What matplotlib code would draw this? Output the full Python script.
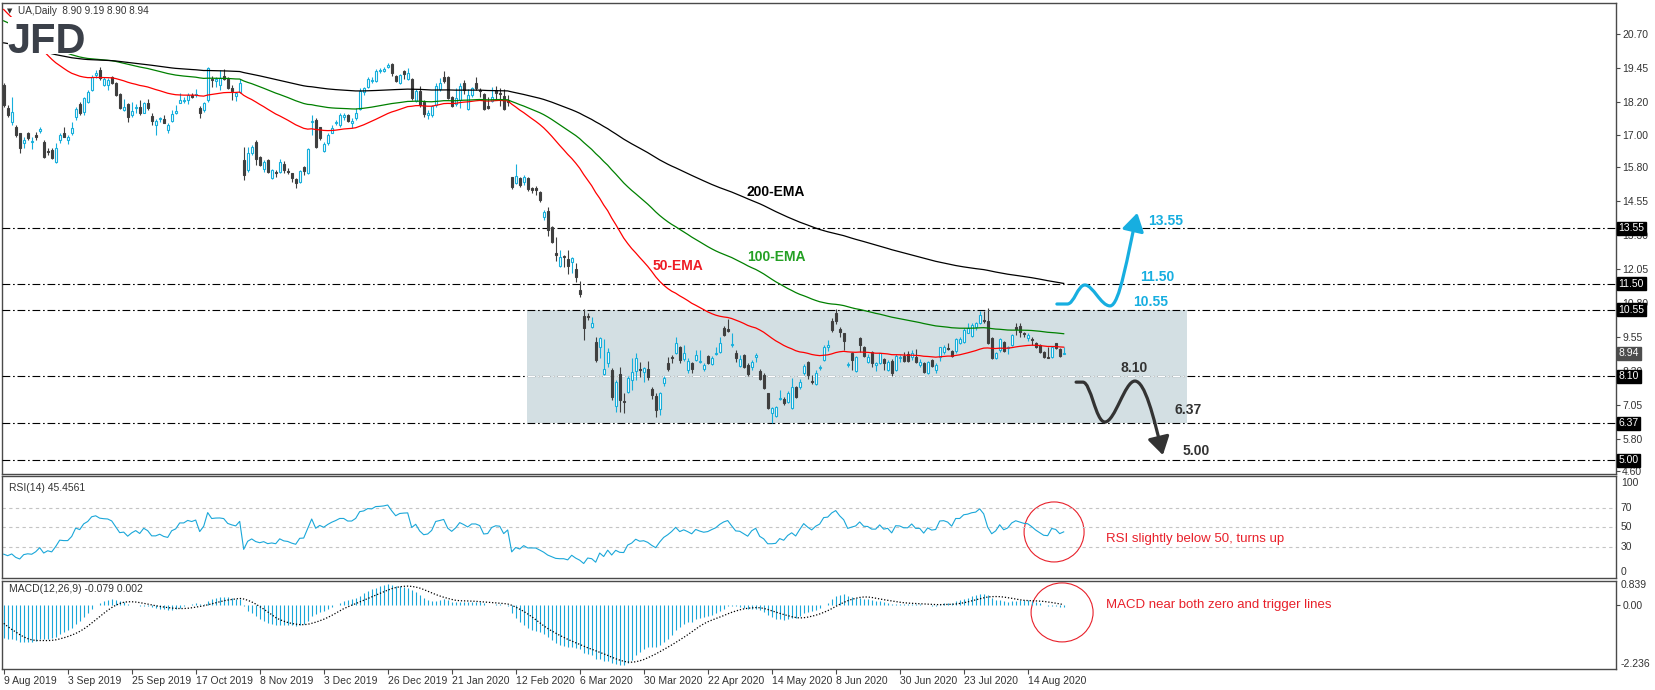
import numpy as np
import matplotlib
matplotlib.use('Agg')
import matplotlib.pyplot as plt
from matplotlib.path import Path
from matplotlib.patches import FancyArrowPatch, Rectangle, Ellipse

plt.rcParams['font.family'] = ['Liberation Sans', 'DejaVu Sans']

# UA daily candles (9 Aug 2019 -> late Aug 2020)
opens = [
    18.83, 17.97, 17.48, 17.30, 17.05, 16.68, 17.05, 16.72, 16.99, 17.14,
    16.74, 16.40, 16.44, 16.01, 16.81, 17.08, 16.81, 17.07, 17.64, 18.12,
    17.85, 18.22, 18.65, 19.20, 19.38, 18.83, 18.83, 19.11, 18.92, 18.49,
    17.91, 18.13, 17.73, 17.98, 18.01, 17.81, 18.16, 17.69, 17.36, 17.57,
    17.57, 17.17, 17.52, 17.79, 18.18, 18.23, 18.28, 18.45, 18.45, 17.99,
    17.91, 18.28, 19.07, 18.97, 18.83, 19.17, 19.07, 18.73, 18.44, 18.59,
    16.07, 15.70, 16.34, 16.74, 16.19, 15.73, 16.07, 15.39, 15.64, 15.64,
    15.92, 15.67, 15.58, 15.36, 15.27, 15.82, 15.58, 17.47, 17.54, 17.27,
    16.41, 16.71, 17.07, 17.42, 17.36, 17.67, 17.73, 17.42, 17.60, 17.94,
    18.59, 18.75, 18.97, 18.99, 19.34, 19.36, 19.48, 19.59, 19.16, 18.89,
    19.36, 19.04, 19.04, 18.26, 18.62, 18.22, 17.71, 17.73, 18.10, 18.67,
    19.11, 19.11, 18.38, 18.13, 18.28, 18.89, 17.94, 18.46, 18.92, 18.65,
    18.49, 18.06, 18.25, 18.65, 18.55, 18.43, 18.24, 15.43, 15.23, 15.39,
    15.27, 15.39, 15.02, 15.02, 14.89, 13.95, 14.20, 13.61, 12.63, 12.16,
    12.53, 12.41, 12.32, 12.04, 11.28, 10.32, 10.32, 9.90, 9.37, 9.19,
    8.18, 8.57, 8.33, 7.00, 8.18, 7.19, 7.53, 7.96, 8.30, 8.38,
    8.27, 8.35, 7.61, 7.37, 6.88, 7.86, 8.57, 8.82, 8.97, 9.19,
    8.72, 8.33, 8.57, 8.70, 8.61, 8.38, 8.84, 8.55, 8.92, 9.00,
    9.86, 9.83, 9.24, 8.97, 8.47, 8.88, 8.51, 8.45, 8.82, 8.30,
    8.15, 7.47, 6.73, 6.63, 7.26, 7.25, 7.16, 6.92, 7.69, 7.69,
    8.23, 8.64, 7.92, 7.81, 8.40, 8.70, 9.17, 10.15, 10.42, 9.83,
    9.68, 8.52, 8.97, 8.30, 9.50, 9.16, 8.64, 9.00, 8.52, 8.60,
    8.72, 8.33, 8.67, 8.33, 8.77, 8.84, 8.92, 8.82, 8.82, 8.51,
    8.57, 8.23, 8.70, 8.33, 8.80, 9.00, 9.15, 9.04, 9.01, 9.34,
    9.37, 9.70, 9.58, 9.90, 10.05, 10.17, 10.15, 9.50, 8.76, 9.07,
    9.37, 9.14, 9.25, 9.90, 9.95, 9.70, 9.50, 9.48, 9.34, 9.25,
    9.00, 8.82, 8.80, 9.31, 9.09, 8.90,
]
highs = [
    18.89, 18.10, 18.40, 17.36, 17.08, 16.93, 17.11, 16.93, 17.11, 17.30,
    16.81, 16.50, 16.50, 16.68, 17.08, 17.30, 16.99, 17.48, 18.03, 18.22,
    18.40, 18.65, 19.20, 19.38, 19.51, 19.11, 19.08, 19.17, 18.95, 18.53,
    18.30, 18.16, 18.22, 18.13, 18.28, 18.22, 18.30, 17.81, 17.57, 17.67,
    17.73, 17.44, 17.91, 18.10, 18.53, 18.40, 18.55, 18.55, 18.67, 18.06,
    18.22, 19.51, 19.17, 19.11, 19.38, 19.42, 19.12, 18.83, 18.59, 19.04,
    16.56, 16.56, 16.62, 16.81, 16.22, 16.07, 16.09, 15.73, 15.70, 16.09,
    16.04, 15.76, 15.60, 15.39, 15.70, 15.85, 16.50, 17.73, 17.60, 17.30,
    16.74, 17.08, 17.36, 17.54, 17.79, 17.79, 17.75, 17.60, 17.97, 18.71,
    18.77, 19.12, 19.12, 19.41, 19.45, 19.51, 19.66, 19.63, 19.20, 19.24,
    19.38, 19.45, 19.08, 18.67, 18.80, 18.28, 17.91, 18.10, 18.89, 19.08,
    19.36, 19.16, 18.43, 18.73, 18.92, 19.02, 18.67, 18.77, 19.11, 18.71,
    18.53, 18.38, 18.75, 18.80, 18.71, 18.67, 18.46, 15.45, 15.92, 15.45,
    15.51, 15.45, 15.09, 15.11, 14.94, 14.23, 14.35, 13.64, 13.24, 12.75,
    12.57, 12.75, 12.48, 12.26, 11.62, 10.57, 10.42, 10.29, 9.53, 9.53,
    9.46, 9.13, 8.39, 7.96, 8.45, 7.47, 8.11, 8.76, 8.94, 8.64,
    8.45, 8.67, 7.71, 7.47, 7.53, 8.11, 8.82, 8.88, 9.56, 9.21,
    9.25, 8.76, 8.64, 9.07, 9.07, 8.57, 8.88, 8.84, 9.19, 9.53,
    9.95, 10.20, 9.68, 9.07, 8.88, 8.92, 8.57, 8.70, 8.97, 8.35,
    8.21, 7.49, 6.98, 7.00, 7.59, 7.35, 7.57, 8.02, 7.74, 7.98,
    8.55, 8.67, 8.15, 8.33, 8.51, 9.25, 9.43, 10.23, 10.57, 9.90,
    9.70, 8.64, 9.00, 8.84, 9.53, 9.21, 8.92, 9.04, 8.64, 8.97,
    8.76, 8.70, 8.72, 8.92, 8.88, 9.00, 9.04, 9.07, 9.09, 8.72,
    8.64, 8.67, 8.72, 8.57, 9.19, 9.25, 9.34, 9.07, 9.50, 9.53,
    9.86, 10.05, 10.05, 10.11, 10.52, 10.52, 10.60, 9.53, 9.00, 9.50,
    9.41, 9.21, 9.66, 10.07, 10.05, 9.74, 9.68, 9.53, 9.37, 9.29,
    9.04, 9.19, 9.21, 9.34, 9.13, 9.19,
]
lows = [
    18.03, 17.67, 17.36, 16.93, 16.31, 16.50, 16.81, 16.46, 16.81, 17.05,
    16.13, 16.25, 16.09, 15.97, 16.68, 16.90, 16.66, 16.99, 17.54, 17.73,
    17.73, 18.16, 18.62, 19.08, 19.02, 18.80, 18.65, 18.87, 18.43, 17.94,
    17.89, 17.48, 17.67, 17.79, 17.73, 17.79, 17.91, 17.36, 16.99, 17.48,
    17.42, 17.07, 17.48, 17.76, 18.16, 18.16, 18.13, 18.34, 18.40, 17.60,
    17.85, 18.22, 18.75, 18.77, 18.65, 19.02, 18.67, 18.28, 18.25, 18.55,
    15.33, 15.64, 16.25, 15.88, 15.85, 15.64, 15.58, 15.36, 15.45, 15.58,
    15.60, 15.55, 15.27, 15.05, 15.23, 15.51, 15.55, 16.99, 16.50, 16.81,
    16.38, 16.62, 17.05, 17.36, 17.27, 17.54, 17.48, 17.23, 17.54, 17.91,
    18.46, 18.71, 18.89, 18.95, 19.26, 19.32, 19.45, 19.16, 18.94, 18.87,
    19.04, 19.02, 18.28, 18.22, 18.03, 17.67, 17.57, 17.67, 18.03, 18.62,
    18.92, 18.30, 18.03, 18.06, 17.97, 18.50, 17.91, 18.38, 18.65, 18.38,
    17.91, 17.95, 18.22, 18.31, 18.06, 17.91, 18.06, 15.00, 15.18, 15.09,
    15.15, 14.94, 14.84, 14.78, 14.51, 13.86, 13.28, 13.00, 12.36, 12.14,
    12.14, 11.87, 11.89, 11.58, 11.03, 9.43, 10.17, 9.86, 8.64, 8.76,
    8.15, 8.45, 7.22, 6.79, 6.79, 6.73, 7.47, 7.59, 7.96, 8.08,
    7.90, 7.96, 7.25, 6.61, 6.67, 7.74, 8.30, 8.60, 8.92, 8.57,
    8.67, 8.23, 8.23, 8.67, 8.57, 8.30, 8.55, 8.51, 8.88, 8.97,
    9.58, 9.74, 9.19, 8.64, 8.43, 8.39, 8.11, 8.33, 8.64, 7.96,
    7.62, 6.88, 6.36, 6.58, 7.22, 7.04, 7.12, 6.88, 7.28, 7.62,
    8.15, 7.98, 7.81, 7.78, 8.33, 8.67, 9.04, 9.74, 10.02, 9.56,
    9.07, 8.45, 8.33, 8.27, 9.00, 8.80, 8.57, 8.45, 8.30, 8.55,
    8.33, 8.30, 8.11, 8.30, 8.64, 8.64, 8.64, 8.70, 8.57, 8.45,
    8.21, 8.18, 8.43, 8.23, 8.67, 8.92, 9.07, 8.82, 8.97, 9.29,
    9.34, 9.68, 9.56, 9.80, 10.02, 10.07, 9.29, 8.72, 8.72, 9.00,
    9.00, 8.92, 9.21, 9.62, 9.56, 9.56, 9.41, 9.25, 9.13, 8.97,
    8.76, 8.76, 8.76, 9.10, 8.82, 8.90,
]
closes = [
    18.10, 17.73, 17.85, 16.99, 16.50, 16.81, 16.87, 16.77, 16.93, 17.20,
    16.19, 16.35, 16.13, 16.50, 16.99, 16.93, 16.93, 17.23, 17.94, 17.79,
    18.34, 18.59, 19.14, 19.26, 19.08, 19.04, 19.02, 18.89, 18.46, 17.97,
    18.01, 17.64, 17.87, 18.03, 17.79, 18.16, 17.97, 17.52, 17.52, 17.62,
    17.44, 17.36, 17.75, 17.87, 18.28, 18.28, 18.46, 18.40, 18.50, 17.81,
    18.16, 19.45, 19.02, 19.07, 19.08, 19.04, 18.72, 18.62, 18.55, 18.89,
    15.51, 16.31, 16.56, 16.09, 15.88, 15.98, 15.64, 15.70, 15.58, 15.98,
    15.70, 15.62, 15.39, 15.23, 15.66, 15.68, 16.47, 17.52, 16.53, 16.87,
    16.66, 16.99, 17.26, 17.47, 17.73, 17.73, 17.52, 17.52, 17.79, 18.61,
    18.71, 19.04, 19.02, 19.35, 19.38, 19.44, 19.56, 19.26, 18.98, 19.20,
    19.24, 19.26, 18.37, 18.62, 18.10, 17.76, 17.81, 18.06, 18.80, 18.89,
    18.99, 18.34, 18.06, 18.34, 18.80, 18.65, 18.46, 18.71, 18.71, 18.60,
    17.94, 17.97, 18.40, 18.53, 18.50, 17.94, 18.19, 15.09, 15.48, 15.15,
    15.45, 14.99, 14.97, 14.97, 14.59, 14.15, 13.49, 13.06, 12.58, 12.48,
    12.48, 12.16, 12.44, 11.74, 11.13, 9.86, 10.27, 10.05, 8.70, 9.50,
    8.35, 9.00, 7.35, 7.90, 7.22, 7.14, 8.02, 8.27, 8.76, 8.33,
    8.39, 8.06, 7.41, 6.85, 7.47, 8.02, 8.35, 8.77, 9.34, 8.70,
    8.94, 8.67, 8.35, 8.88, 8.66, 8.50, 8.57, 8.78, 8.97, 9.34,
    9.62, 9.78, 9.29, 8.76, 8.72, 8.45, 8.18, 8.64, 8.87, 7.98,
    7.65, 6.92, 6.92, 6.95, 7.31, 7.10, 7.47, 7.69, 7.35, 7.90,
    8.49, 8.15, 7.87, 8.23, 8.45, 9.19, 9.25, 9.80, 10.15, 9.74,
    9.41, 8.56, 8.70, 8.82, 9.25, 8.84, 8.82, 8.57, 8.57, 8.94,
    8.57, 8.64, 8.23, 8.84, 8.82, 8.67, 8.67, 8.97, 8.64, 8.64,
    8.27, 8.64, 8.47, 8.51, 9.16, 9.19, 9.10, 8.84, 9.46, 9.46,
    9.80, 9.86, 9.99, 10.05, 10.36, 10.12, 9.31, 8.76, 8.97, 9.46,
    9.04, 9.19, 9.62, 9.83, 9.74, 9.65, 9.62, 9.43, 9.19, 9.00,
    8.80, 8.77, 9.19, 9.13, 8.84, 8.94,
]

date_labels = ['9 Aug 2019', '3 Sep 2019', '25 Sep 2019', '17 Oct 2019', '8 Nov 2019',
               '3 Dec 2019', '26 Dec 2019', '21 Jan 2020', '12 Feb 2020', '6 Mar 2020',
               '30 Mar 2020', '22 Apr 2020', '14 May 2020', '8 Jun 2020', '30 Jun 2020',
               '23 Jul 2020', '14 Aug 2020']
bars_per_label = 16

price_ticks = [20.70, 19.45, 18.20, 17.00, 15.80, 14.55, 13.30, 12.05,
               10.80, 9.55, 8.30, 7.05, 5.80, 4.60]
levels = [13.55, 11.50, 10.55, 8.10, 6.37, 5.00]
last_price = 8.94
range_low, range_high = 6.37, 10.55
range_start, range_end = 130.8, 295.8   # bar index span of the shaded box

# indicator state just before the first visible bar
ema_seed = {50: 21.76, 100: 21.26, 200: 20.41}
macd_seed = {12: 19.30, 26: 20.45}
macd_before = [-0.20, -0.30, -0.40, -0.50, -0.60, -0.75, -0.90, -1.05]
rsi_prev_close, rsi_avg_gain, rsi_avg_loss = 18.80, 0.10, 0.28
macd_min, macd_max = -2.236, 0.839


def ema(values, period, seed):
    k = 2.0 / (period + 1)
    out, prev = [], seed
    for v in values:
        prev = prev + k * (v - prev)
        out.append(prev)
    return np.array(out)


def rsi(values, period, prev, g, l):
    out = []
    for v in values:
        ch = v - prev
        g = (g * (period - 1) + max(ch, 0)) / period
        l = (l * (period - 1) + max(-ch, 0)) / period
        out.append(100 - 100 / (1 + g / l))
        prev = v
    return np.array(out)


o, h, l, c = (np.array(a) for a in (opens, highs, lows, closes))
n = len(c)
x = np.arange(n)

ema50, ema100, ema200 = (ema(c, p, ema_seed[p]) for p in (50, 100, 200))
macd = ema(c, 12, macd_seed[12]) - ema(c, 26, macd_seed[26])
full = np.concatenate([macd_before, macd])
signal = np.array([full[i:i + 9].mean() for i in range(n)])
rsi14 = rsi(c, 14, rsi_prev_close, rsi_avg_gain, rsi_avg_loss)

W, H = 1655, 690
fig = plt.figure(figsize=(W / 100, H / 100), dpi=100)
fig.patch.set_facecolor('white')


def axes_px(left, top, right, bottom):
    return fig.add_axes([left / W, 1 - bottom / H, (right - left) / W, (bottom - top) / H])


ax = axes_px(2.3, 3, 1616, 474)
ax_rsi = axes_px(2.3, 476, 1616, 578)
ax_macd = axes_px(2.3, 580.5, 1616, 669)

lab_kw = dict(fontsize=7.5, color='#333333')
for a in (ax, ax_rsi, ax_macd):
    a.set_xlim(-0.35, 403.08)
    for s in a.spines.values():
        s.set_color('#4a4a4a')
        s.set_linewidth(1.0)
    a.tick_params(left=False, labelleft=False, bottom=False, labelbottom=False)
    a.yaxis.tick_right()
    a.tick_params(axis='y', right=True, labelright=True, length=3, width=0.8, pad=1.5,
                  labelsize=7.5, labelcolor='#333333', color='#4a4a4a')

# ---------- main price panel ----------
ax.set_ylim(4.494, 21.855)
ax.set_yticks(price_ticks)
ax.set_yticklabels(['%.2f' % t for t in price_ticks])

dashdot = (0, (7, 2.5, 1.5, 2.5))
box = Rectangle((range_start, range_low), range_end - range_start, range_high - range_low,
                facecolor='#d3dfe3', edgecolor='none', zorder=1)
ax.add_patch(box)
for lv in levels:
    ax.axhline(lv, color='black', lw=0.8, ls=dashdot, zorder=3)
inner = ax.axhline(8.10, color='white', lw=0.8, ls=dashdot, zorder=3.5)
inner.set_clip_path(box)

bull, bear = '#16afdc', '#3f3f3f'
up = c >= o
body = np.maximum(np.abs(c - o), 0.03)
bottom = np.minimum(o, c)
ax.vlines(x[up], l[up], h[up], color=bull, lw=0.8, zorder=4)
ax.vlines(x[~up], l[~up], h[~up], color=bear, lw=0.8, zorder=4)
ax.bar(x[up], body[up], bottom=bottom[up], width=0.55, facecolor='white',
       edgecolor=bull, lw=0.8, zorder=5)
ax.bar(x[~up], body[~up], bottom=bottom[~up], width=0.55, facecolor=bear,
       edgecolor=bear, lw=0.8, zorder=5)

ax.plot(x, ema50, color='#ff0000', lw=0.9, zorder=6)
ax.plot(x, ema100, color='#008000', lw=0.9, zorder=6)
ax.plot(x, ema200, color='#000000', lw=0.9, zorder=6)

bold = dict(fontsize=10, fontweight='bold', ha='left', va='center', zorder=8)
ax.text(185.8, 14.89, '200-EMA', color='black', **bold)
ax.text(185.8, 12.49, '100-EMA', color='#23a023', **bold)
ax.text(162.1, 12.16, '50-EMA', color='#ee1c25', **bold)

cyan, dark = '#17aee0', '#333333'
ax.text(286.1, 13.82, '13.55', color=cyan, **bold)
ax.text(284.1, 11.77, '11.50', color=cyan, **bold)
ax.text(282.3, 10.82, '10.55', color=cyan, **bold)
ax.text(279.3, 8.40, '8.10', color=dark, **bold)
ax.text(292.8, 6.85, '6.37', color=dark, **bold)
ax.text(294.6, 5.34, '5.00', color=dark, **bold)

M, L, C4 = Path.MOVETO, Path.LINETO, Path.CURVE4
up_wave = Path([(263.3, 10.76), (265.9, 10.76),
                (267.6, 10.76), (268.5, 11.46), (270.3, 11.46),
                (272.3, 11.46), (274.3, 10.69), (276.6, 10.69),
                (279.0, 10.69), (281.0, 12.6), (283.4, 14.12)],
               [M, L, C4, C4, C4, C4, C4, C4, C4, C4, C4])
down_wave = Path([(268.1, 7.88), (269.8, 7.88),
                  (271.8, 7.88), (273.0, 6.41), (275.3, 6.41),
                  (277.8, 6.41), (280.3, 7.92), (282.8, 7.92),
                  (285.3, 7.92), (287.5, 6.6), (289.8, 5.19)],
                 [M, L, C4, C4, C4, C4, C4, C4, C4, C4, C4])
for p, col in ((up_wave, cyan), (down_wave, dark)):
    ax.add_patch(FancyArrowPatch(path=p, arrowstyle='-|>,head_length=0.9,head_width=0.55',
                                 mutation_scale=12, lw=2.3, color=col, shrinkA=0, shrinkB=0,
                                 zorder=7))


def price_box(a, val, text, bg):
    a.text(1.0016, val, text, transform=a.get_yaxis_transform(), ha='left', va='center',
           fontsize=7.5, color='white', zorder=10, clip_on=False,
           bbox=dict(boxstyle='square,pad=0.15', fc=bg, ec=bg))


for lv in levels:
    price_box(ax, lv, '%.2f' % lv, 'black')
price_box(ax, last_price, '%.2f' % last_price, '#4d4d4d')

# header + logo
fig.text(7 / W, 1 - 11 / H, '\u25bc', fontsize=5, color='#333333', va='center',
         family='DejaVu Sans')
fig.text(18 / W, 1 - 11 / H, 'UA,Daily  8.90 9.19 8.90 8.94', va='center',
         fontsize=7.2, color='#333333')
fig.patches.append(Rectangle((8 / W, 1 - 54 / H), 77 / W, 37 / H, transform=fig.transFigure,
                             facecolor='white', edgecolor='none', zorder=20))
fig.text(7 / W, 1 - 53 / H, 'JFD', fontsize=30, fontweight='bold', color='#3b4049',
         va='baseline', zorder=21)

# ---------- RSI panel ----------
ax_rsi.set_ylim(-1, 102)
ax_rsi.set_yticks([])
ax_rsi.tick_params(axis='y', right=False)
for lv in (70, 50, 30):
    ax_rsi.axhline(lv, color='#c4c4c4', lw=0.8, ls=(0, (3, 3)))
ax_rsi.plot(x, rsi14, color='#1aa7d9', lw=0.8)
for val, va in ((100, 'top'), (70, 'center'), (50, 'center'), (30, 'center'), (0, 'bottom')):
    ax_rsi.text(1.003, val, str(val), transform=ax_rsi.get_yaxis_transform(),
                ha='left', va=va, clip_on=False, **lab_kw)
ax_rsi.text(0.004, 0.88, 'RSI(14) 45.4561', transform=ax_rsi.transAxes, va='center', **lab_kw)
ax_rsi.add_patch(Ellipse((262.6, 45.5), 15, 60.6, fill=False, ec='#e8202a', lw=0.8,
                         clip_on=False))
ax_rsi.text(275.6, 38.4, 'RSI slightly below 50, turns up', color='#e8202a', fontsize=9.5,
            ha='left', va='center')

# ---------- MACD panel ----------
ax_macd.set_ylim(macd_min, macd_max)
ax_macd.set_yticks([0])
ax_macd.set_yticklabels(['0.00'])
ax_macd.vlines(x, 0, macd, color='#1aa7d9', lw=0.8)
ax_macd.plot(x, signal, color='black', lw=0.9, ls=(0, (1, 1.5)))
ax_macd.text(1.003, macd_max, '%.3f' % macd_max, transform=ax_macd.get_yaxis_transform(),
             ha='left', va='top', clip_on=False, **lab_kw)
ax_macd.text(1.003, macd_min, '%.3f' % macd_min, transform=ax_macd.get_yaxis_transform(),
             ha='left', va='bottom', clip_on=False, **lab_kw)
ax_macd.text(0.004, 0.9, 'MACD(12,26,9) -0.079 0.002', transform=ax_macd.transAxes,
             va='center', **lab_kw)
ax_macd.add_patch(Ellipse((264.6, -0.27), 15.5, 2.05, fill=False, ec='#e8202a', lw=0.8,
                          clip_on=False))
ax_macd.text(275.6, 0.0, 'MACD near both zero and trigger lines', color='#e8202a',
             fontsize=9.5, ha='left', va='center')

ticks = np.arange(len(date_labels)) * bars_per_label
ax_macd.set_xticks(ticks)
ax_macd.set_xticklabels(date_labels, ha='left')
ax_macd.tick_params(axis='x', bottom=True, labelbottom=True, length=3.5, width=0.8, pad=1.5,
                    labelsize=7.5, labelcolor='#333333', color='#4a4a4a')

fig.savefig('out.png', dpi=100)
